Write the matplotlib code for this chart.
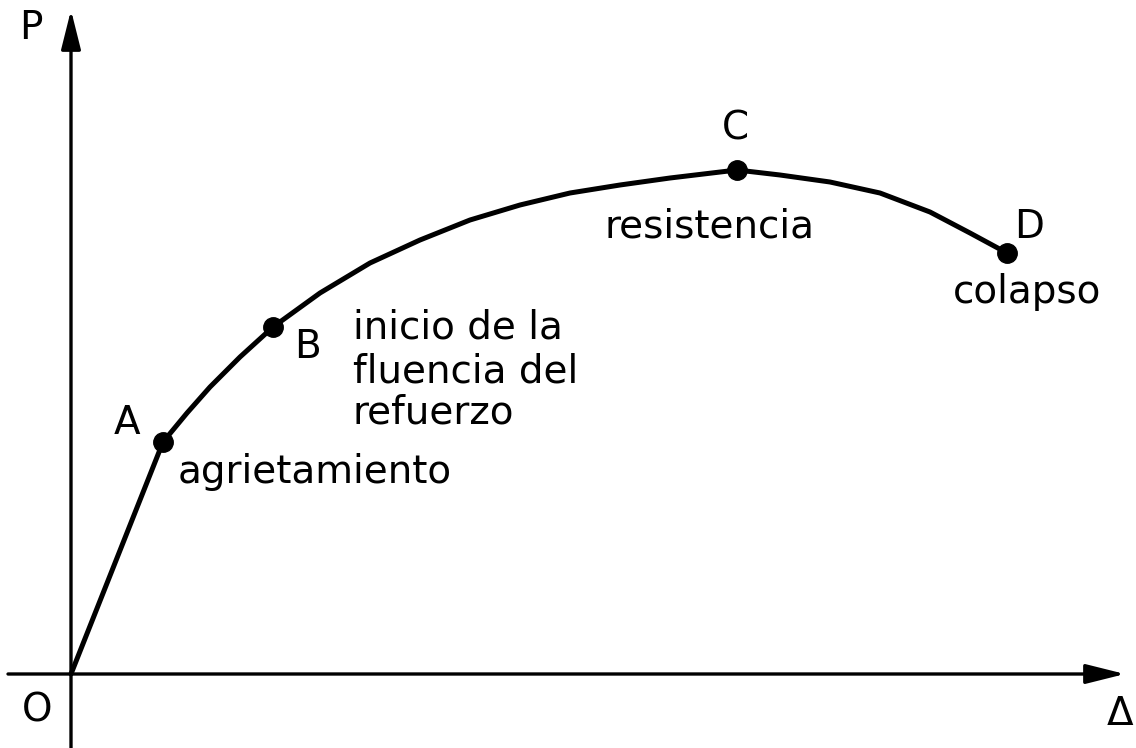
import numpy as np
import matplotlib
matplotlib.use("Agg")
import matplotlib.pyplot as plt

# load-deflection curve (arbitrary units)
delta = [0, 92, 116, 139, 169, 202, 249, 299, 349, 399, 449, 499, 549, 599,
         666, 709, 759, 809, 859, 899, 936]
load = [0, 232, 261, 287, 317, 347, 381, 411, 434, 454, 469, 481, 489, 496,
        504, 499, 492, 481, 462, 441, 421]

# key points A, B, C, D
pt_names = ["A", "B", "C", "D"]
pt_delta = [92, 202, 666, 936]
pt_load = [232, 347, 504, 421]
pt_label_pos = [(56, 251), (236, 327), (664, 546), (958, 447)]

notes = ["agrietamiento", "inicio de la", "fluencia del", "refuerzo",
         "resistencia", "colapso"]
note_pos = [(107, 191), (282, 336), (282, 292), (282, 251), (534, 437),
            (882, 371)]

fig = plt.figure(figsize=(11.36, 7.48), dpi=100)
ax = fig.add_axes([0, 0, 1, 1])
ax.set_xlim(-71, 1065)
ax.set_ylim(-74, 674)
ax.axis("off")

# axes with arrows
arrow = dict(arrowstyle="-|>,head_length=1.2,head_width=0.3", lw=2.4,
             color="black", mutation_scale=20, shrinkA=0, shrinkB=0)
ax.annotate("", xy=(0, 664), xytext=(0, -74), arrowprops=arrow)
ax.annotate("", xy=(1054, 0), xytext=(-63, 0), arrowprops=arrow)

ax.plot(delta, load, color="black", lw=3.6, solid_joinstyle="round",
        solid_capstyle="round")
ax.plot(pt_delta, pt_load, "o", color="black", ms=14)

fs = 28
for name, (x, y) in zip(pt_names, pt_label_pos):
    ax.text(x, y, name, fontsize=fs, ha="center", va="center")
for note, (x, y) in zip(notes, note_pos):
    ax.text(x, y, note, fontsize=fs, ha="left", va="baseline")

ax.text(-40, 646, "P", fontsize=fs, ha="center", va="center")
ax.text(-34, -36, "O", fontsize=fs, ha="center", va="center")
ax.text(1049, -40, "Δ", fontsize=fs, ha="center", va="center")

fig.savefig("out.png", dpi=100, facecolor="white")
